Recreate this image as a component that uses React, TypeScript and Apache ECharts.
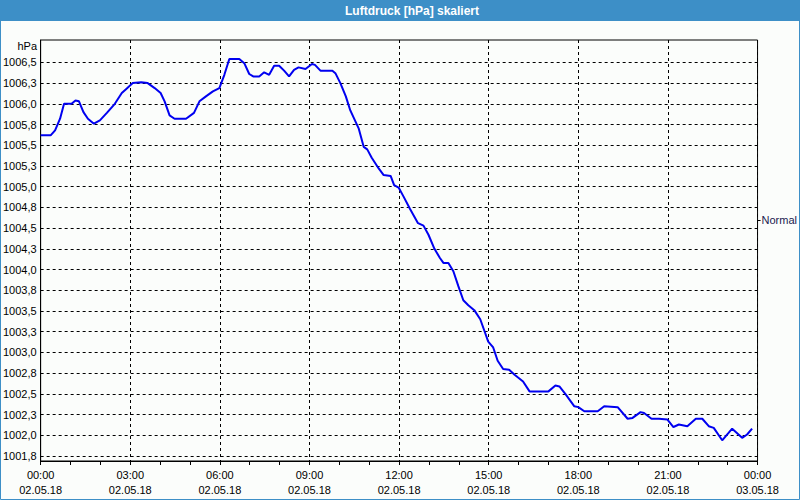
import React, { useEffect, useRef } from "react";
import * as echarts from "echarts";

const TITLE = "Luftdruck [hPa] skaliert";
const UNIT = "hPa";
const NORMAL_LABEL = "Normal";
const NORMAL_VALUE = 1004.6;

const Y_MIN = 1001.69;
const Y_MAX = 1006.77;
const Y_TICKS = [
  1001.75, 1002.0, 1002.25, 1002.5, 1002.75, 1003.0, 1003.25, 1003.5, 1003.75, 1004.0,
  1004.25, 1004.5, 1004.75, 1005.0, 1005.25, 1005.5, 1005.75, 1006.0, 1006.25, 1006.5,
];
const Y_LABELS = [
  "1001,8", "1002,0", "1002,3", "1002,5", "1002,8", "1003,0", "1003,3", "1003,5", "1003,8", "1004,0",
  "1004,3", "1004,5", "1004,8", "1005,0", "1005,3", "1005,5", "1005,8", "1006,0", "1006,3", "1006,5",
];

const X_TICK_HOURS = [0, 3, 6, 9, 12, 15, 18, 21, 24];
const X_TIME_LABELS = ["00:00", "03:00", "06:00", "09:00", "12:00", "15:00", "18:00", "21:00", "00:00"];
const X_DATE_LABELS = ["02.05.18", "02.05.18", "02.05.18", "02.05.18", "02.05.18", "02.05.18", "02.05.18", "02.05.18", "03.05.18"];

const times = [
  "00:00", "00:20", "00:29", "00:39", "00:47", "01:02", "01:10", "01:17", "01:26", "01:35",
  "01:47", "01:59", "02:13", "02:29", "02:43", "02:52", "03:05", "03:22", "03:35", "03:49",
  "04:01", "04:09", "04:19", "04:29", "04:52", "05:08", "05:19", "05:32", "05:46", "05:59",
  "06:09", "06:19", "06:39", "06:49", "06:59", "07:07", "07:19", "07:29", "07:39", "07:49",
  "07:59", "08:09", "08:19", "08:29", "08:38", "08:52", "09:05", "09:11", "09:22", "09:46",
  "09:52", "10:02", "10:13", "10:22", "10:39", "10:49", "10:56", "11:05", "11:19", "11:29",
  "11:43", "11:50", "11:59", "12:09", "12:22", "12:38", "12:49", "12:59", "13:11", "13:22",
  "13:29", "13:39", "13:49", "13:59", "14:09", "14:19", "14:31", "14:43", "14:52", "14:59",
  "15:09", "15:18", "15:29", "15:41", "15:52", "16:09", "16:22", "16:39", "17:00", "17:14",
  "17:22", "17:35", "17:52", "18:00", "18:12", "18:39", "18:52", "19:19", "19:39", "19:49",
  "20:05", "20:12", "20:27", "20:42", "20:59", "21:11", "21:22", "21:39", "21:56", "22:09",
  "22:22", "22:32", "22:49", "23:09", "23:29", "23:39", "23:49",
];
const pressure = [
  1005.62, 1005.62, 1005.68, 1005.82, 1006.0, 1006.0, 1006.04, 1006.03, 1005.9, 1005.82,
  1005.76, 1005.8, 1005.89, 1006.0, 1006.13, 1006.18, 1006.25, 1006.26, 1006.25, 1006.19,
  1006.13, 1006.03, 1005.86, 1005.82, 1005.82, 1005.89, 1006.03, 1006.09, 1006.15, 1006.19,
  1006.35, 1006.54, 1006.54, 1006.49, 1006.36, 1006.33, 1006.33, 1006.38, 1006.35, 1006.46,
  1006.46, 1006.4, 1006.33, 1006.41, 1006.44, 1006.42, 1006.48, 1006.47, 1006.4, 1006.4,
  1006.37, 1006.25, 1006.09, 1005.92, 1005.7, 1005.48, 1005.45, 1005.35, 1005.22, 1005.14,
  1005.13, 1005.02, 1004.99, 1004.88, 1004.73, 1004.56, 1004.53, 1004.42, 1004.25, 1004.14,
  1004.08, 1004.08, 1003.98, 1003.8, 1003.63, 1003.57, 1003.51, 1003.4, 1003.25, 1003.13,
  1003.06, 1002.9, 1002.8, 1002.79, 1002.73, 1002.65, 1002.53, 1002.53, 1002.53, 1002.6,
  1002.59, 1002.49, 1002.35, 1002.34, 1002.29, 1002.29, 1002.35, 1002.34, 1002.2, 1002.21,
  1002.28, 1002.27, 1002.2, 1002.2, 1002.19, 1002.1, 1002.13, 1002.11, 1002.2, 1002.2,
  1002.11, 1002.09, 1001.94, 1002.08, 1001.97, 1002.01, 1002.08,
];

const FONT = "'Liberation Sans', Arial, sans-serif";

function toHours(t: string): number {
  const [h, m] = t.split(":").map(Number);
  return h + m / 60;
}

export default function App() {
  const ref = useRef<HTMLDivElement>(null);

  useEffect(() => {
    if (!ref.current) return;
    const chart = echarts.init(ref.current, null, { renderer: "svg" });
    const data = times.map((t, i) => [toHours(t), pressure[i]]);

    chart.setOption({
      animation: false,
      backgroundColor: "#fbfdfb",
      textStyle: { fontFamily: FONT },
      grid: {
        left: 40,
        top: 40,
        width: 720,
        height: 421,
        show: true,
        borderColor: "#000",
        borderWidth: 1,
        backgroundColor: "transparent",
      },
      xAxis: {
        type: "value",
        min: 0,
        max: 24,
        interval: 3,
        axisLine: { show: true, lineStyle: { color: "#000", width: 1 } },
        axisTick: { show: true, length: 4, lineStyle: { color: "#000" } },
        minorTick: { show: true, splitNumber: 3, length: 4, lineStyle: { color: "#000" } },
        splitLine: { show: true, lineStyle: { color: "#000", type: [3, 3], width: 1 } },
        axisLabel: {
          margin: 6,
          fontSize: 11,
          lineHeight: 15,
          color: "#000",
          fontFamily: FONT,
          showMinLabel: true,
          showMaxLabel: true,
          formatter: (v: number) => {
            const i = X_TICK_HOURS.indexOf(Math.round(v));
            return i >= 0 ? X_TIME_LABELS[i] + "\n" + X_DATE_LABELS[i] : "";
          },
        },
      },
      yAxis: [
        {
          type: "value",
          min: Y_MIN,
          max: Y_MAX,
          axisLine: { show: true, lineStyle: { color: "#000", width: 1 } },
          axisTick: { show: false, customValues: Y_TICKS },
          splitLine: { show: true, lineStyle: { color: "#000", type: [3, 3], width: 1 } },
          axisLabel: {
            customValues: Y_TICKS,
            margin: 4,
            fontSize: 11,
            color: "#000",
            fontFamily: FONT,
            formatter: (v: number) => {
              const i = Y_TICKS.findIndex((t) => Math.abs(t - v) < 1e-6);
              return i >= 0 ? Y_LABELS[i] : "";
            },
          },
        },
        {
          type: "value",
          position: "right",
          min: Y_MIN,
          max: Y_MAX,
          axisLine: { show: false },
          axisTick: { show: true, length: 3, customValues: [NORMAL_VALUE], lineStyle: { color: "#000" } },
          splitLine: { show: false },
          axisLabel: {
            customValues: [NORMAL_VALUE],
            margin: 4,
            fontSize: 11,
            color: "#1a1a50",
            fontFamily: FONT,
            formatter: () => NORMAL_LABEL,
          },
        },
      ],
      graphic: [
        {
          type: "rect",
          shape: { x: 0, y: 0, width: 800, height: 21 },
          style: { fill: "#3d8fc7" },
          silent: true,
        },
        {
          type: "text",
          x: 412,
          y: 10.5,
          style: {
            text: TITLE,
            fill: "#ffffff",
            font: "bold 12px " + FONT,
            textAlign: "center",
            textVerticalAlign: "middle",
          },
          silent: true,
        },
        {
          type: "rect",
          shape: { x: 0.5, y: 20.5, width: 799, height: 479 },
          style: { fill: "none", stroke: "#3d8fc7", lineWidth: 1 },
          silent: true,
        },
        {
          type: "text",
          x: 37,
          y: 46,
          style: {
            text: UNIT,
            fill: "#000",
            font: "11px " + FONT,
            textAlign: "right",
            textVerticalAlign: "middle",
          },
          silent: true,
        },
      ],
      series: [
        {
          type: "line",
          data,
          showSymbol: false,
          symbol: "none",
          lineStyle: { color: "#0000f0", width: 2 },
          yAxisIndex: 0,
        },
      ],
    });

    return () => chart.dispose();
  }, []);

  return (
    <div
      ref={ref}
      style={{ width: 800, height: 500, position: "fixed", left: 0, top: 0 }}
    />
  );
}
